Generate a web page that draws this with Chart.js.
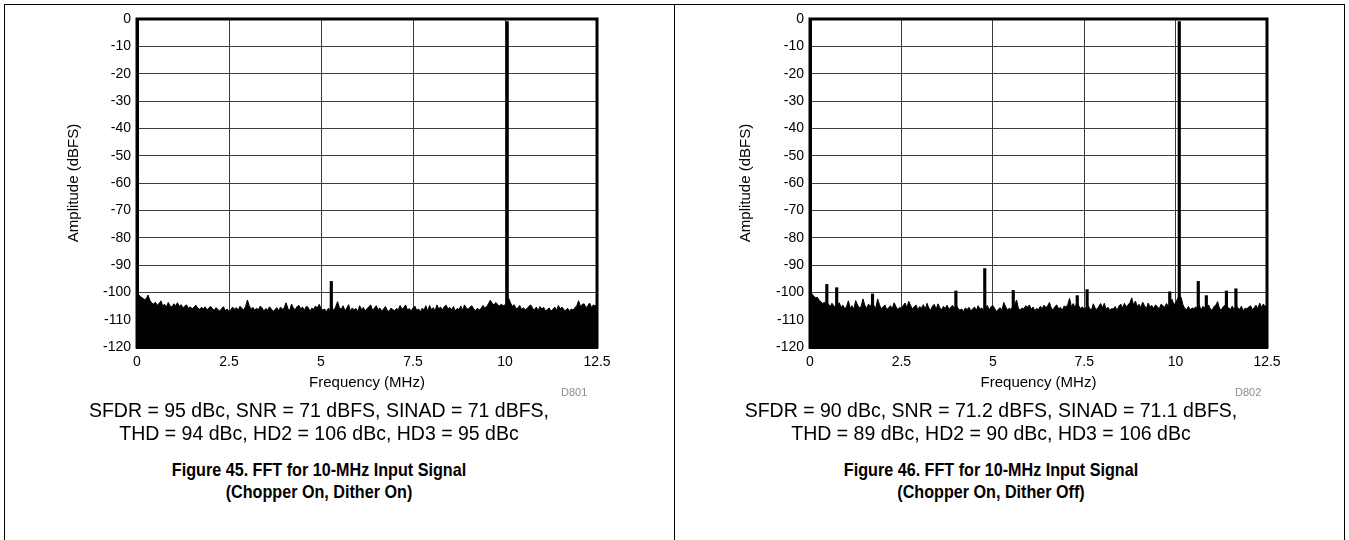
<!DOCTYPE html>
<html>
<head>
<meta charset="utf-8">
<title>FFT for 10-MHz Input Signal</title>
<script src="https://cdn.jsdelivr.net/npm/chart.js@4.4.1/dist/chart.umd.min.js"></script>
<style>
  html, body { margin: 0; padding: 0; background: #fff; }
  body { width: 1349px; height: 540px; position: relative; overflow: hidden;
         font-family: "Liberation Sans", Arial, sans-serif; color: #000; }
  .frame { position: absolute; left: 4px; top: 4px; width: 1341px; height: 540px;
           border: 1px solid #000; border-bottom: none; box-sizing: border-box; }
  .divider { position: absolute; left: 674px; top: 4px; width: 1px; height: 536px; background: #000; }
  canvas { position: absolute; top: 0; }
  .code { position: absolute; font-size: 11px; color: #8c8c8c; }
  .stats { position: absolute; width: 600px; text-align: center; font-size: 19.5px; line-height: 23px; white-space: nowrap; }
  .caption { position: absolute; width: 600px; text-align: center; font-size: 19px; font-weight: bold; line-height: 22px;
             white-space: nowrap; transform: scaleX(0.85); transform-origin: 50% 0; }
</style>
</head>
<body>
<div class="frame"></div>
<div class="divider"></div>

<canvas id="fftLeft" width="674" height="400" style="left:0px"></canvas>
<canvas id="fftRight" width="674" height="400" style="left:675px"></canvas>

<div class="code" style="left:561px; top:386px;">D801</div>
<div class="code" style="left:1235px; top:386px;">D802</div>

<div class="stats" style="left:19px; top:399px;">SFDR = 95 dBc, SNR = 71 dBFS, SINAD = 71 dBFS,<br>THD = 94 dBc, HD2 = 106 dBc, HD3 = 95 dBc</div>
<div class="stats" style="left:691px; top:399px;">SFDR = 90 dBc, SNR = 71.2 dBFS, SINAD = 71.1 dBFS,<br>THD = 89 dBc, HD2 = 90 dBc, HD3 = 106 dBc</div>

<div class="caption" style="left:19px; top:459px;">Figure 45. FFT for 10-MHz Input Signal<br>(Chopper On, Dither On)</div>
<div class="caption" style="left:691px; top:459px;">Figure 46. FFT for 10-MHz Input Signal<br>(Chopper On, Dither Off)</div>

<script>
// axes
const freqTicks = [0, 2.5, 5, 7.5, 10, 12.5];
const ampTicks = [0, -10, -20, -30, -40, -50, -60, -70, -80, -90, -100, -110, -120];
const binStep = 0.05; // MHz between noise-floor readings, 0 .. 12.5

// Figure 45 (dither on): noise floor envelope, dBFS
const noiseLeft = [
  -100.0, -100.9, -101.6, -102.1, -102.6, -102.4, -101.0, -102.9, -103.9, -104.3,
  -103.6, -104.7, -104.1, -103.1, -104.9, -104.4, -105.3, -103.7, -105.0, -105.4,
  -104.2, -104.9, -103.8, -105.1, -104.5, -105.7, -105.0, -104.6, -105.9, -105.3,
  -106.1, -105.4, -104.7, -105.8, -106.2, -105.5, -106.0, -105.3, -106.4, -105.8,
  -105.1, -106.0, -106.5, -105.6, -106.3, -106.9, -105.9, -105.3, -106.7, -106.1,
  -107.0, -106.3, -105.4, -106.2, -105.6, -106.5, -105.1, -105.9, -106.4, -105.2,
  -102.8, -104.9, -106.2, -105.5, -106.6, -105.8, -106.4, -105.0, -105.7, -106.8,
  -105.9, -106.5, -105.3, -106.1, -107.0, -106.3, -105.6, -106.7, -105.4, -106.2,
  -105.7, -103.8, -105.9, -106.6, -104.3, -105.8, -106.3, -105.2, -104.8, -106.0,
  -105.4, -106.6, -105.1, -105.5, -106.9, -105.8, -106.2, -105.0, -105.7, -104.4,
  -105.9, -106.5, -106.1, -107.1, -105.8, -106.6, -105.5, -106.8, -105.2, -103.4,
  -105.6, -106.2, -104.9, -106.7, -105.8, -104.5, -106.9, -105.7, -106.4, -105.9,
  -107.0, -104.9, -106.3, -105.5, -106.8, -106.0, -105.3, -104.6, -106.5, -105.8,
  -104.9, -106.4, -105.7, -106.9, -106.1, -105.2, -106.6, -107.0, -105.8, -106.3,
  -106.7, -105.9, -106.4, -104.8, -106.2, -105.6, -104.6, -106.5, -105.9, -106.8,
  -105.7, -105.0, -106.6, -106.1, -107.0, -105.8, -106.4, -104.9, -106.9, -104.8,
  -106.3, -105.6, -106.8, -104.6, -106.0, -105.4, -106.5, -105.2, -104.7, -106.1,
  -105.5, -106.4, -105.2, -106.8, -105.9, -106.3, -105.0, -106.6, -104.6, -105.8,
  -106.2, -105.4, -104.9, -106.1, -106.7, -105.8, -106.5, -105.9, -104.8, -105.6,
  -105.3, -104.2, -102.9, -104.0, -104.6, -103.7, -104.5, -105.0, -104.3, -104.9,
  -104.6, -103.8, -102.2, -103.9, -105.1, -104.5, -106.0, -105.7, -104.8, -106.3,
  -105.6, -106.4, -105.9, -105.1, -104.6, -105.8, -106.5, -105.4, -106.7, -105.2,
  -106.1, -105.5, -106.8, -106.3, -105.7, -106.9, -106.2, -105.4, -106.6, -104.8,
  -106.0, -105.4, -106.4, -106.7, -105.8, -106.9, -106.1, -106.5, -105.6, -104.9,
  -103.1, -105.2, -104.4, -104.2, -105.6, -104.9, -103.9, -105.5, -104.6, -105.0,
  -104.3
];
const spurFreqLeft = [5.28, 10.06];
const spurLevelLeft = [-96.0, -0.9];

// Figure 46 (dither off)
const noiseRight = [
  -99.0, -100.6, -101.3, -102.0, -101.8, -102.9, -103.4, -104.1, -103.6, -104.8,
  -104.2, -105.3, -104.0, -104.9, -105.6, -104.4, -103.8, -105.5, -104.7, -106.0,
  -105.2, -103.1, -105.8, -104.9, -106.2, -103.0, -104.6, -105.7, -105.1, -102.4,
  -104.7, -105.9, -104.3, -105.4, -103.6, -104.9, -105.8, -102.4, -104.5, -106.1,
  -105.3, -104.6, -106.3, -105.7, -104.9, -106.0, -103.8, -105.2, -106.4, -105.5,
  -105.9, -104.8, -103.9, -105.6, -103.3, -104.7, -106.1, -105.3, -104.6, -106.5,
  -105.2, -105.8, -104.5, -106.3, -104.0, -105.7, -106.6, -105.0, -104.4, -106.2,
  -104.2, -105.6, -106.4, -105.1, -105.9, -104.7, -106.3, -105.4, -104.8, -105.8,
  -104.6, -105.9, -106.5, -106.1, -107.0, -105.7, -106.3, -105.5, -106.8, -106.0,
  -105.4, -106.6, -104.9, -106.2, -105.7, -106.9, -105.6, -104.8, -106.4, -105.3,
  -104.8, -105.9, -107.0, -106.2, -105.6, -106.7, -103.7, -105.2, -106.5, -105.8,
  -106.3, -105.0, -104.6, -102.8, -105.9, -106.4, -105.7, -106.1, -104.9, -105.5,
  -104.6, -106.2, -105.4, -106.7, -105.9, -106.3, -105.1, -106.0, -104.7, -105.6,
  -104.9, -103.7, -105.8, -106.4, -105.2, -104.6, -106.1, -105.5, -106.6, -105.0,
  -105.4, -104.5, -102.2, -105.3, -104.1, -105.7, -103.6, -104.9, -106.0, -105.3,
  -106.2, -105.5, -104.7, -105.9, -106.5, -104.2, -105.8, -106.3, -105.1, -104.1,
  -105.7, -104.0, -106.2, -105.4, -106.6, -105.9, -106.1, -105.2, -106.7, -105.0,
  -104.3, -105.8, -104.0, -105.3, -104.6, -103.8, -102.0, -104.7, -103.2, -105.1,
  -104.4, -105.6, -103.6, -104.9, -106.0, -103.9, -105.3, -104.8, -105.9, -104.6,
  -105.2, -106.1, -104.4, -104.8, -105.5, -104.1, -105.0, -104.6, -102.5, -104.4,
  -104.0, -102.4, -101.3, -101.8, -104.5, -105.9, -106.3, -105.2, -106.4, -105.7,
  -106.0, -105.3, -106.2, -104.8, -106.5, -105.1, -105.8, -106.3, -104.6, -106.1,
  -106.6, -105.2, -104.7, -103.4, -105.9, -106.4, -105.3, -104.8, -106.1, -105.6,
  -106.3, -105.0, -106.5, -104.9, -105.7, -106.2, -105.1, -106.7, -105.8, -106.0,
  -105.4, -104.9, -106.3, -105.6, -104.7, -106.0, -103.9, -105.5, -104.3, -105.2,
  -104.8
];
const spurFreqRight = [0.46, 0.73, 1.71, 3.99, 4.78, 5.56, 7.31, 7.58, 9.84, 10.1, 10.62, 10.84, 11.39, 11.65];
const spurLevelRight = [-97.1, -98.3, -100.6, -99.5, -91.3, -99.3, -101.2, -99.0, -99.8, -0.9, -96.0, -101.2, -99.5, -98.7];

const FONT = '"Liberation Sans", Arial, sans-serif';

// box around the plot area (top/right edges too)
const plotFrame = {
  id: 'plotFrame',
  afterDraw(chart) {
    const a = chart.chartArea, ctx = chart.ctx;
    ctx.save();
    ctx.strokeStyle = '#000';
    ctx.lineWidth = 3;
    ctx.strokeRect(a.left, a.top, a.right - a.left, a.bottom - a.top);
    ctx.restore();
  }
};

function makeChart(id, noise, spurFreq, spurLevel, lay) {
  const floorPts = noise.map((v, i) => ({ x: i * binStep, y: v }));
  const spurPts = spurFreq.map((f, i) => ({ x: f, y: spurLevel[i] }));

  return new Chart(document.getElementById(id), {
    type: 'line',
    data: {
      datasets: [
        {
          type: 'line',
          data: floorPts,
          borderColor: '#000',
          backgroundColor: '#000',
          borderWidth: 1,
          pointRadius: 0,
          tension: 0,
          fill: 'start'
        },
        {
          type: 'bar',
          data: spurPts,
          backgroundColor: '#000',
          borderWidth: 0,
          barThickness: 2.5,
          base: -120
        }
      ]
    },
    options: {
      responsive: false,
      animation: false,
      devicePixelRatio: 1,
      layout: { padding: { left: lay.padLeft, right: lay.padRight, top: 19, bottom: 8 } },
      plugins: { legend: { display: false }, tooltip: { enabled: false } },
      scales: {
        x: {
          type: 'linear',
          min: 0, max: 12.5,
          offset: false,
          afterBuildTicks: s => { s.ticks = freqTicks.map(v => ({ value: v })); },
          afterFit: s => { s.height = 45; },
          grid: { color: '#3c3c3c', lineWidth: 1, drawTicks: false, offset: false },
          border: { color: '#000', width: 3 },
          ticks: { color: '#000', font: { family: FONT, size: 14 }, padding: 7, maxRotation: 0 },
          title: { display: true, text: 'Frequency (MHz)', color: '#000', font: { family: FONT, size: 15 }, padding: 0 }
        },
        y: {
          min: -120, max: 0,
          afterBuildTicks: s => { s.ticks = ampTicks.map(v => ({ value: v })); },
          afterFit: s => { s.width = lay.yWidth; },
          grid: { color: '#3c3c3c', lineWidth: 1, drawTicks: false },
          border: { color: '#000', width: 3 },
          ticks: { color: '#000', font: { family: FONT, size: 14 }, padding: 6 },
          title: { display: true, text: 'Amplitude (dBFS)', color: '#000', font: { family: FONT, size: 15 }, padding: 0 }
        }
      }
    },
    plugins: [plotFrame]
  });
}

makeChart('fftLeft', noiseLeft, spurFreqLeft, spurLevelLeft, { padLeft: 65, yWidth: 72, padRight: 77 });
makeChart('fftRight', noiseRight, spurFreqRight, spurLevelRight, { padLeft: 62, yWidth: 73, padRight: 82 });
</script>
</body>
</html>
